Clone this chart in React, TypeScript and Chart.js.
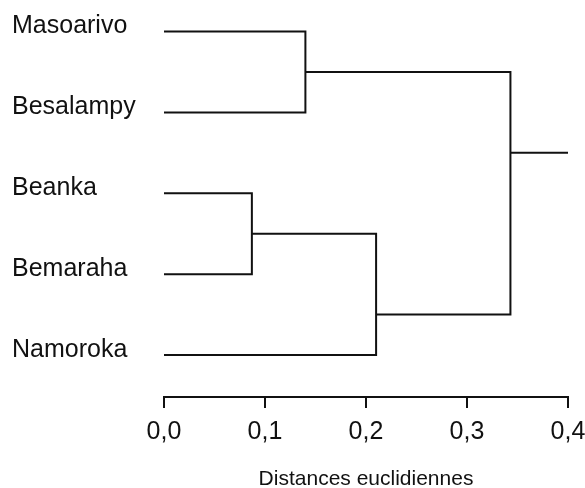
import React, { useEffect, useRef } from "react";
import { Chart, registerables } from "chart.js";

Chart.register(...registerables);

// Leaves (top to bottom)
const leafLabels = ["Masoarivo", "Besalampy", "Beanka", "Bemaraha", "Namoroka"];
// Merges: node ids 0..4 are leaves, 5.. are clusters in merge order
const mergeLeft = [0, 2, 6, 5];
const mergeRight = [1, 3, 4, 7];
const mergeHeight = [0.14, 0.087, 0.21, 0.343];
// vertical position (in leaf units) where each cluster's link leaves it
const clusterY = [0.5, 2.5, 3.5, 1.5];
const rootTailEnd = 0.4;
// x axis
const xTickValues = [0, 0.1, 0.2, 0.3, 0.4];
const xTickLabels = ["0,0", "0,1", "0,2", "0,3", "0,4"];
const xTitle = "Distances euclidiennes";

const FONT = "'Liberation Sans', Arial, Helvetica, sans-serif";
const INK = "#111111";

function buildSegments() {
  const nodeX: number[] = leafLabels.map(() => 0).concat(mergeHeight);
  const nodeY: number[] = leafLabels.map((_, i) => i).concat(clusterY);
  const sets: any[] = [];
  mergeLeft.forEach((a, k) => {
    const b = mergeRight[k];
    const h = mergeHeight[k];
    sets.push([
      { x: nodeX[a], y: nodeY[a] },
      { x: h, y: nodeY[a] },
      { x: h, y: nodeY[b] },
      { x: nodeX[b], y: nodeY[b] },
    ]);
  });
  const root = leafLabels.length + mergeHeight.length - 1;
  sets.push([
    { x: nodeX[root], y: nodeY[root] },
    { x: rootTailEnd, y: nodeY[root] },
  ]);
  return sets;
}

export default function App() {
  const ref = useRef<HTMLCanvasElement | null>(null);
  useEffect(() => {
    if (!ref.current) return;
    const segments = buildSegments();
    const chart = new Chart(ref.current, {
      type: "scatter",
      data: {
        datasets: segments.map((pts) => ({
          data: pts,
          showLine: true,
          borderColor: INK,
          borderWidth: 2,
          pointRadius: 0,
          pointHoverRadius: 0,
          fill: false,
          clip: false as any,
          tension: 0,
        })),
      },
      options: {
        animation: false,
        responsive: false,
        maintainAspectRatio: false,
        events: [],
        layout: { padding: { left: 12, right: 17, top: 10, bottom: 0 } },
        plugins: { legend: { display: false }, tooltip: { enabled: false } },
        scales: {
          x: {
            type: "linear",
            position: "bottom",
            min: 0,
            max: 0.4,
            afterBuildTicks: (s: any) => {
              s.ticks = xTickValues.map((v) => ({ value: v }));
            },
            afterFit: (s: any) => {
              s.height = 91;
              s.paddingLeft = 0;
              s.paddingRight = 0;
            },
            ticks: {
              autoSkip: false,
              maxRotation: 0,
              padding: 9,
              color: INK,
              font: { family: FONT, size: 25 },
              callback: (v: any) => {
                const i = xTickValues.findIndex((t) => Math.abs(t - Number(v)) < 1e-9);
                return i >= 0 ? xTickLabels[i] : "";
              },
            },
            grid: {
              display: true,
              drawOnChartArea: false,
              drawTicks: true,
              tickLength: 11,
              color: INK,
              lineWidth: 2,
            },
            border: { display: true, color: INK, width: 2 },
            title: {
              display: true,
              text: xTitle,
              color: INK,
              font: { family: FONT, size: 21, lineHeight: 0.8 },
              padding: 0,
            },
          },
          y: {
            type: "linear",
            position: "left",
            reverse: true,
            min: -0.266,
            max: 4.519,
            afterBuildTicks: (s: any) => {
              s.ticks = leafLabels.map((_, i) => ({ value: i }));
            },
            afterFit: (s: any) => {
              s.width = 152;
              s.paddingTop = 0;
              s.paddingBottom = 0;
            },
            ticks: {
              autoSkip: false,
              crossAlign: "far",
              labelOffset: -5,
              color: INK,
              font: { family: FONT, size: 25 },
              callback: (v: any) => leafLabels[Math.round(Number(v))] ?? "",
            },
            grid: { display: false, drawTicks: false },
            border: { display: false },
          },
        },
      },
    });
    return () => chart.destroy();
  }, []);
  return (
    <div style={{ position: "fixed", left: 0, top: 0, width: 585, height: 488, background: "#fff" }}>
      <canvas ref={ref} width={585} height={488} style={{ width: 585, height: 488, display: "block" }} />
    </div>
  );
}
